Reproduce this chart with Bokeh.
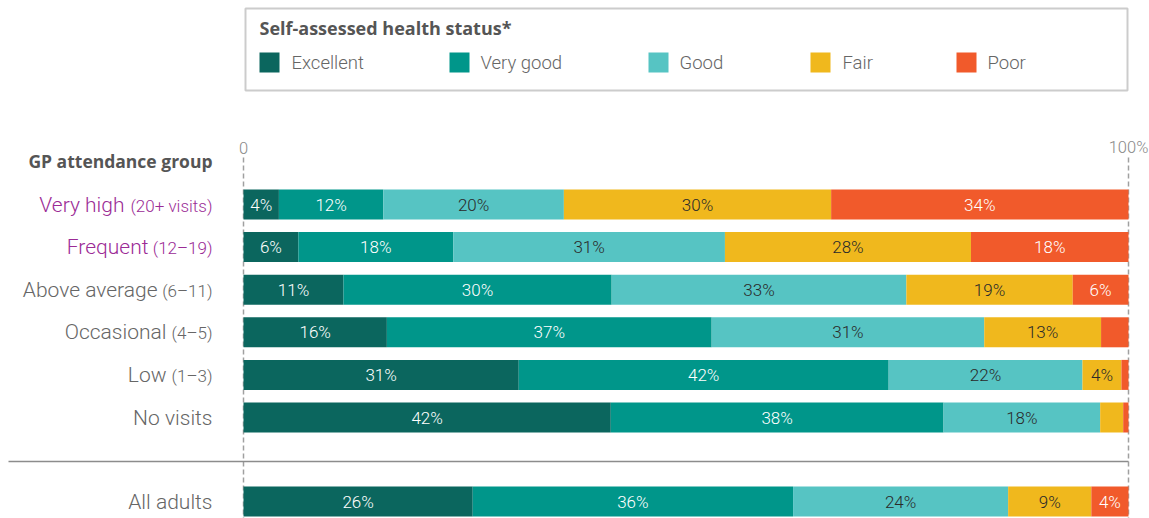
from bokeh.plotting import figure
from bokeh.models import Range1d, ColumnDataSource
from bokeh.core.properties import value
from bokeh.embed import file_html
from bokeh.resources import INLINE

# ---------------- data ----------------
groups = ["Very high", "Frequent", "Above average", "Occasional", "Low", "No visits", "All adults"]
group_ranges = ["(20+ visits)", "(12–19)", "(6–11)", "(4–5)", "(1–3)", "", ""]
highlighted = [True, True, False, False, False, False, False]
statuses = ["Excellent", "Very good", "Good", "Fair", "Poor"]
colors = ["#0b665e", "#00968a", "#56c4c3", "#f0b81d", "#f15a2b"]
label_colors = ["#ffffff", "#ffffff", "#2a2a2a", "#2a2a2a", "#ffffff"]

excellent = [4.0, 6.2, 11.3, 16.2, 31.1, 41.5, 25.9]
very_good = [11.8, 17.5, 30.3, 36.7, 41.8, 37.6, 36.2]
good = [20.4, 30.7, 33.3, 30.8, 21.9, 17.7, 24.3]
fair = [30.2, 27.8, 18.8, 13.2, 4.4, 2.6, 9.4]
poor = [33.6, 17.8, 6.3, 3.1, 0.8, 0.6, 4.2]
series = [excellent, very_good, good, fair, poor]

axis_ticks = [0, 100]
axis_tick_labels = ["0", "100%"]
legend_title = "Self-assessed health status*"
group_title = "GP attendance group"

# ---------------- layout ----------------
FONT = "Roboto Light"
BOLD = "Open Sans"
W, H = 1149, 518
X0_PX, X100_PX = 243, 1128
ppu = (X100_PX - X0_PX) / 100.0
xs = -X0_PX / ppu
xe = xs + W / ppu
ROW_Y = [204 + 42.6 * i for i in range(6)] + [501]
BAR_H = 30
LABEL_RIGHT = 212
paren_w = [82, 58, 49, 40, 40, 0, 0]
legend_sq_x = [269, 459, 658, 820, 966]
legend_txt_x = [291, 480, 679, 842, 987]

p = figure(width=W, height=H, x_range=Range1d(xs, xe), y_range=Range1d(H, 0),
           output_backend="svg", toolbar_location=None, min_border=0,
           x_axis_type=None, y_axis_type=None, outline_line_color=None,
           background_fill_color="white", border_fill_color="white")
p.extra_x_ranges = {"px": Range1d(0, W)}
p.xgrid.visible = False
p.ygrid.visible = False

# dashed reference lines at 0 and 100
p.segment(x0=axis_ticks, x1=axis_ticks, y0=[157, 157], y1=[H, H],
          line_color="#a0a0a0", line_width=1.5, line_dash="5 3")

# separator line
p.segment(x0=[8], x1=[X100_PX], y0=[461], y1=[461], line_color="#8c8c8c",
          line_width=1.5, x_range_name="px")

# stacked bars
cum = [0.0] * len(groups)
lx, ly, lt, lc = [], [], [], []
for k, vals in enumerate(series):
    left = cum[:]
    right = [a + b for a, b in zip(cum, vals)]
    p.hbar(y=ROW_Y, left=left, right=right, height=BAR_H,
           fill_color=colors[k], line_color=None)
    for i, v in enumerate(vals):
        if v >= 3.5:
            lx.append((left[i] + right[i]) / 2)
            ly.append(ROW_Y[i])
            lt.append(f"{round(v)}%")
            lc.append(label_colors[k])
    cum = right

p.text(x="x", y="y", text="t", text_color="c",
       source=ColumnDataSource(dict(x=lx, y=ly, t=lt, c=lc)),
       text_align="center", text_baseline="middle",
       text_font=value(FONT), text_font_size="17px")

# axis tick labels
p.text(x=axis_ticks, y=[147, 147], text=axis_tick_labels, text_align="center",
       text_baseline="middle", text_font=value(FONT), text_font_size="16.5px",
       text_color="#8a8a8a")

# group title
p.text(x=[LABEL_RIGHT], y=[160], text=[group_title], x_range_name="px",
       text_align="right", text_baseline="middle", text_font=value(BOLD),
       text_font_style="bold", text_font_size="17.5px", text_color="#555555")

# category labels
purple = "#9b2b96"
grey = "#666666"
main_x = [LABEL_RIGHT - (w + 6 if w else 0) for w in paren_w]
cat_c = [purple if h else grey for h in highlighted]
p.text(x="x", y="y", text="t", text_color="c", x_range_name="px",
       source=ColumnDataSource(dict(x=main_x, y=ROW_Y, t=groups, c=cat_c)),
       text_align="right", text_baseline="middle",
       text_font=value(FONT), text_font_size="21px")
p.text(x="x", y="y", text="t", text_color="c", x_range_name="px",
       source=ColumnDataSource(dict(x=[LABEL_RIGHT] * len(groups),
                                    y=[y + 1 for y in ROW_Y],
                                    t=group_ranges, c=cat_c)),
       text_align="right", text_baseline="middle",
       text_font=value(FONT), text_font_size="17px")

# legend box
p.quad(left=[245], right=[1127], top=[8], bottom=[90], fill_color=None,
       line_color="#cccccc", line_width=2, x_range_name="px")
p.text(x=[259], y=[27], text=[legend_title], x_range_name="px",
       text_align="left", text_baseline="middle", text_font=value(BOLD),
       text_font_style="bold", text_font_size="18px", text_color="#555555")
p.rect(x=legend_sq_x, y=[62] * 5, width=20, height=20, fill_color=colors,
       line_color=None, x_range_name="px")
p.text(x=legend_txt_x, y=[62] * 5, text=statuses, x_range_name="px",
       text_align="left", text_baseline="middle", text_font=value(FONT),
       text_font_size="18.5px", text_color="#666666")

open("out.html", "w").write(file_html(p, INLINE))
